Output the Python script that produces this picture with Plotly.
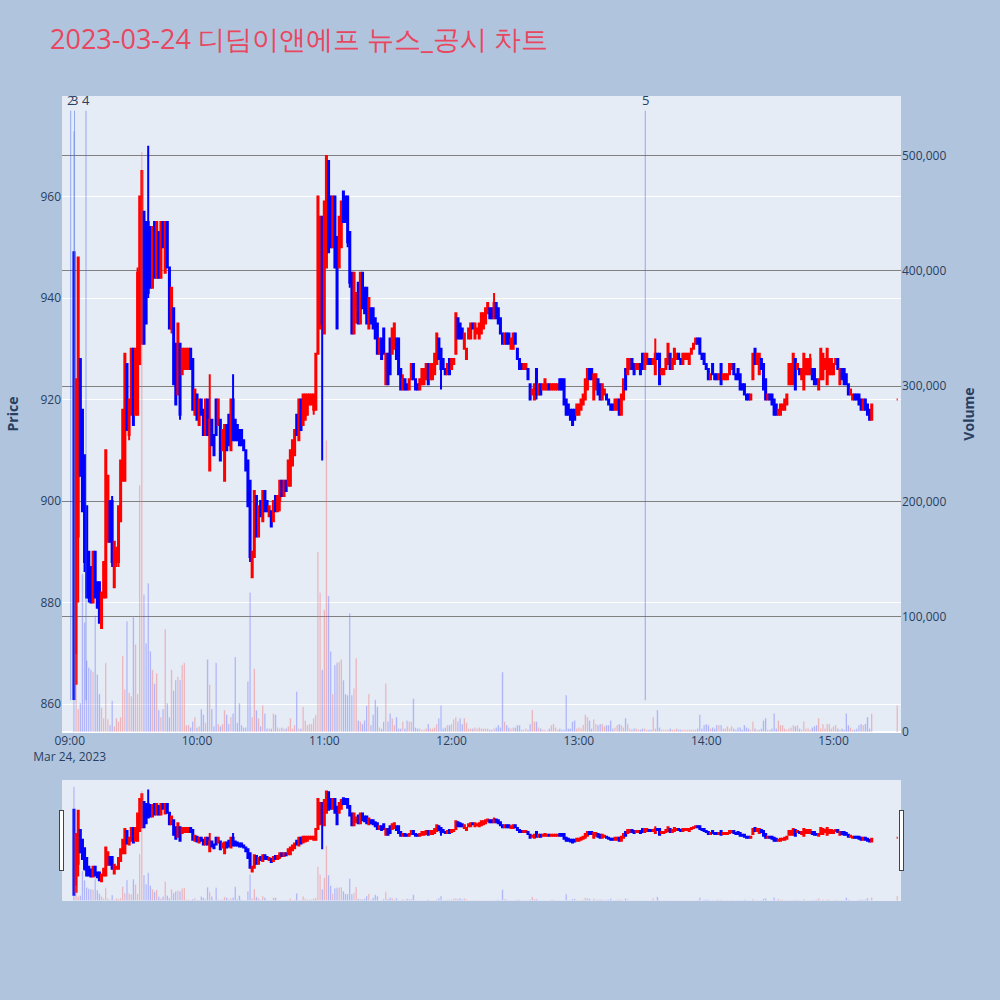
import pandas as pd
import plotly.graph_objects as go
from plotly.subplots import make_subplots

TITLE = "2023-03-24 디딤이앤에프 뉴스_공시 차트"

# minute candles 09:02 .. 15:18, plus closing print at 15:30
times = list(pd.date_range("2023-03-24 09:02", "2023-03-24 15:18", freq="min")) + [pd.Timestamp("2023-03-24 15:30")]

opens = [
    949, 864, 893, 928, 918, 909, 899, 890, 887, 880,
    890, 884, 884, 875, 881, 881, 892, 900, 900, 883,
    888, 888, 896, 904, 904, 927, 913, 917, 930, 917,
    917, 927, 931, 957, 955, 955, 954, 942, 955, 944,
    953, 944, 955, 945, 955, 946, 934, 938, 931, 921,
    931, 925, 926, 926, 926, 930, 928, 917, 921, 915,
    920, 918, 913, 920, 906, 916, 913, 920, 915, 916,
    910, 904, 915, 917, 910, 920, 916, 915, 914, 914,
    912, 910, 908, 904, 885, 889, 901, 893, 900, 896,
    902, 900, 897, 898, 896, 901, 898, 900, 904, 901,
    904, 903, 903, 907, 909, 917, 912, 920, 915, 916,
    917, 919, 919, 918, 918, 929, 934, 956, 933, 946,
    967, 960, 950, 960, 952, 946, 950, 961, 960, 960,
    953, 945, 933, 938, 943, 935, 945, 942, 942, 934,
    938, 938, 936, 935, 929, 932, 934, 923, 929, 932,
    929, 930, 932, 932, 926, 922, 924, 923, 922, 924,
    927, 924, 923, 922, 923, 923, 924, 927, 924, 924,
    925, 927, 932, 930, 928, 926, 925, 928, 926, 927,
    929, 936, 935, 934, 930, 928, 932, 932, 935, 932,
    933, 932, 933, 934, 935, 937, 938, 938, 936, 939,
    938, 936, 933, 931, 933, 933, 930, 930, 933, 930,
    928, 927, 926, 926, 926, 923, 921, 920, 926, 921,
    923, 922, 922, 922, 923, 922, 922, 922, 922, 924,
    924, 924, 920, 919, 918, 918, 918, 917, 917, 918,
    919, 920, 922, 926, 926, 920, 922, 924, 923, 920,
    921, 921, 920, 919, 919, 918, 918, 920, 917, 920,
    926, 925, 926, 928, 927, 926, 926, 927, 929, 926,
    927, 928, 928, 927, 925, 929, 929, 925, 925, 926,
    927, 929, 926, 927, 928, 929, 928, 927, 928, 928,
    927, 929, 930, 931, 932, 932, 929, 929, 927, 926,
    924, 927, 925, 925, 924, 927, 924, 924, 924, 925,
    926, 927, 925, 926, 925, 923, 923, 921, 921, 920,
    924, 930, 927, 925, 928, 927, 924, 920, 921, 921,
    920, 919, 917, 917, 918, 918, 919, 923, 923, 923,
    928, 926, 926, 924, 922, 925, 925, 925, 926, 926,
    924, 922, 924, 924, 926, 923, 925, 925, 925, 927,
    928, 923, 926, 926, 925, 923, 921, 920, 921, 921,
    921, 920, 918, 920, 919, 918, 916,
    920,
]

highs = [
    949, 924, 948, 928, 918, 909, 899, 890, 887, 890,
    890, 884, 884, 882, 888, 910, 905, 900, 901, 892,
    891, 899, 908, 918, 929, 927, 920, 930, 930, 930,
    946, 960, 965, 957, 955, 970, 954, 954, 955, 955,
    953, 955, 955, 955, 955, 946, 942, 938, 931, 935,
    931, 930, 930, 930, 930, 930, 928, 922, 921, 920,
    920, 918, 920, 920, 925, 916, 913, 920, 920, 916,
    914, 915, 915, 917, 920, 925, 916, 915, 914, 914,
    912, 910, 908, 904, 890, 902, 901, 899, 900, 902,
    902, 900, 899, 898, 900, 901, 901, 904, 904, 904,
    904, 908, 910, 912, 914, 917, 920, 920, 921, 921,
    921, 921, 921, 921, 929, 960, 956, 956, 959, 968,
    967, 960, 960, 960, 952, 956, 959, 961, 960, 960,
    953, 945, 945, 941, 943, 945, 945, 942, 942, 940,
    938, 938, 936, 935, 932, 932, 934, 929, 929, 932,
    934, 935, 932, 932, 926, 925, 924, 923, 924, 927,
    927, 924, 923, 924, 926, 926, 927, 927, 927, 927,
    929, 933, 932, 930, 928, 926, 927, 928, 928, 928,
    937, 936, 935, 934, 933, 930, 934, 935, 935, 935,
    934, 935, 937, 937, 938, 939, 938, 938, 941, 939,
    938, 936, 933, 933, 933, 933, 932, 933, 933, 930,
    928, 927, 927, 927, 926, 923, 922, 923, 926, 923,
    923, 923, 924, 923, 923, 923, 923, 923, 923, 924,
    924, 924, 920, 919, 918, 918, 918, 919, 919, 920,
    921, 924, 926, 926, 926, 925, 925, 924, 923, 923,
    922, 921, 920, 919, 919, 920, 920, 920, 921, 924,
    926, 928, 928, 928, 927, 927, 927, 927, 929, 929,
    929, 928, 928, 928, 932, 929, 929, 926, 926, 928,
    931, 929, 928, 930, 929, 929, 928, 929, 929, 929,
    929, 930, 931, 932, 932, 932, 929, 929, 927, 926,
    925, 927, 925, 925, 925, 927, 925, 925, 925, 927,
    927, 927, 925, 926, 925, 923, 923, 921, 921, 921,
    929, 930, 929, 929, 928, 927, 924, 921, 921, 921,
    920, 919, 918, 919, 919, 920, 921, 927, 927, 929,
    928, 927, 926, 926, 929, 928, 928, 929, 926, 926,
    924, 924, 930, 929, 928, 930, 928, 928, 927, 928,
    928, 926, 926, 926, 925, 923, 922, 921, 921, 921,
    921, 920, 920, 920, 919, 918, 919,
    920,
]

lows = [
    861, 864, 880, 905, 898, 886, 881, 880, 880, 880,
    881, 879, 876, 875, 881, 881, 892, 892, 887, 883,
    887, 887, 896, 904, 904, 914, 912, 917, 915, 917,
    917, 927, 931, 931, 935, 940, 942, 942, 944, 944,
    944, 944, 950, 945, 946, 934, 933, 923, 919, 921,
    916, 925, 926, 926, 926, 926, 918, 917, 916, 915,
    917, 913, 913, 913, 906, 911, 909, 913, 915, 908,
    910, 904, 910, 911, 910, 912, 912, 912, 911, 911,
    910, 906, 899, 888, 885, 889, 893, 893, 897, 896,
    898, 898, 897, 895, 896, 898, 898, 898, 901, 901,
    902, 903, 903, 907, 909, 913, 912, 914, 915, 916,
    917, 919, 919, 917, 918, 929, 934, 908, 933, 946,
    949, 950, 950, 946, 934, 946, 950, 955, 955, 950,
    942, 933, 933, 935, 935, 935, 938, 937, 935, 934,
    935, 934, 932, 929, 929, 928, 929, 923, 923, 925,
    929, 930, 928, 925, 922, 922, 922, 922, 922, 924,
    924, 922, 922, 922, 923, 923, 924, 923, 924, 924,
    925, 927, 928, 922, 926, 925, 925, 925, 926, 927,
    929, 932, 932, 932, 930, 928, 932, 932, 934, 932,
    933, 932, 933, 934, 935, 937, 936, 936, 936, 936,
    935, 933, 931, 931, 931, 931, 930, 930, 931, 928,
    926, 926, 926, 926, 924, 920, 921, 920, 920, 921,
    921, 922, 922, 922, 922, 922, 922, 922, 922, 922,
    922, 919, 917, 917, 916, 915, 916, 917, 917, 918,
    919, 920, 922, 924, 924, 920, 922, 921, 920, 920,
    921, 920, 919, 918, 918, 918, 918, 917, 917, 920,
    922, 925, 926, 926, 925, 926, 926, 925, 926, 926,
    927, 927, 927, 927, 925, 928, 923, 925, 925, 926,
    927, 926, 926, 927, 928, 928, 927, 927, 928, 928,
    927, 929, 930, 931, 931, 929, 928, 927, 926, 924,
    924, 925, 924, 924, 924, 923, 924, 924, 924, 925,
    926, 925, 924, 924, 922, 922, 921, 920, 920, 920,
    924, 927, 927, 925, 926, 922, 920, 920, 920, 919,
    917, 917, 917, 917, 918, 918, 919, 923, 923, 923,
    922, 926, 925, 924, 922, 925, 925, 925, 924, 923,
    923, 922, 924, 924, 926, 923, 925, 925, 925, 927,
    926, 923, 924, 923, 923, 921, 921, 920, 920, 920,
    919, 918, 918, 918, 917, 916, 916,
    920,
]

closes = [
    861, 924, 948, 905, 898, 888, 881, 881, 880, 890,
    881, 879, 876, 882, 888, 910, 905, 892, 888, 892,
    890, 899, 908, 918, 929, 914, 920, 930, 915, 930,
    945, 960, 965, 931, 935, 941, 942, 954, 944, 955,
    944, 955, 950, 955, 946, 934, 942, 923, 919, 935,
    917, 930, 930, 930, 930, 926, 918, 922, 916, 920,
    917, 913, 920, 913, 916, 911, 909, 913, 920, 908,
    914, 915, 910, 911, 920, 912, 912, 912, 911, 911,
    910, 906, 899, 889, 890, 902, 893, 899, 897, 902,
    898, 898, 899, 895, 900, 898, 901, 904, 901, 904,
    902, 908, 910, 912, 914, 913, 920, 914, 921, 921,
    921, 921, 921, 921, 929, 960, 956, 935, 959, 968,
    949, 950, 960, 946, 934, 956, 959, 955, 955, 951,
    943, 933, 945, 941, 935, 945, 938, 937, 935, 940,
    935, 934, 932, 929, 932, 928, 929, 929, 923, 925,
    934, 935, 928, 925, 922, 924, 922, 922, 924, 927,
    924, 922, 922, 924, 926, 926, 927, 923, 927, 927,
    929, 933, 928, 926, 926, 925, 927, 925, 928, 928,
    937, 932, 932, 932, 933, 930, 934, 935, 934, 935,
    934, 935, 937, 937, 938, 939, 936, 936, 939, 936,
    935, 933, 931, 933, 931, 931, 932, 933, 931, 928,
    926, 926, 927, 927, 924, 920, 922, 923, 921, 923,
    921, 923, 924, 923, 922, 923, 923, 923, 923, 922,
    922, 919, 917, 917, 916, 915, 916, 919, 919, 920,
    921, 924, 926, 924, 924, 925, 925, 921, 920, 923,
    922, 920, 919, 918, 918, 920, 920, 917, 921, 924,
    922, 928, 928, 926, 925, 927, 927, 925, 926, 929,
    929, 927, 927, 928, 929, 928, 923, 926, 926, 928,
    931, 926, 928, 930, 929, 928, 927, 929, 929, 929,
    929, 930, 931, 932, 931, 929, 928, 927, 926, 924,
    925, 925, 924, 924, 925, 923, 925, 925, 925, 927,
    927, 925, 924, 924, 922, 922, 921, 920, 920, 921,
    929, 927, 929, 929, 926, 922, 920, 921, 920, 919,
    917, 917, 918, 919, 919, 920, 921, 927, 927, 929,
    922, 927, 925, 926, 929, 928, 928, 928, 924, 923,
    923, 924, 930, 929, 928, 930, 928, 928, 927, 928,
    926, 926, 924, 923, 923, 921, 922, 921, 920, 920,
    919, 918, 920, 918, 917, 916, 919,
    920,
]

volumes = [
    521000, 67000, 20000, 25000, 137000, 95000, 62000, 56000, 54000, 52000,
    101000, 50000, 33000, 21000, 12000, 60000, 11000, 6000, 27000, 5000,
    12000, 9000, 13000, 66000, 37000, 96000, 34000, 31000, 100000, 76000,
    33000, 214000, 503000, 119000, 77000, 129000, 70000, 54000, 42000, 51000,
    19000, 13000, 20000, 89000, 25000, 13000, 54000, 36000, 45000, 48000,
    45000, 58000, 60000, 6000, 6000, 4000, 9000, 13000, 4000, 5000,
    20000, 15000, 8000, 63000, 41000, 20000, 5000, 60000, 7000, 5000,
    7000, 19000, 15000, 7000, 13000, 16000, 65000, 8000, 25000, 6000,
    4000, 4000, 44000, 121000, 13000, 55000, 19000, 12000, 5000, 23000,
    16000, 3000, 3000, 3000, 16000, 15000, 4000, 3000, 4000, 3000,
    3000, 5000, 12000, 3000, 6000, 35000, 3000, 3000, 22000, 10000,
    6000, 7000, 7000, 12000, 15000, 156000, 121000, 54000, 106000, 253000,
    118000, 70000, 33000, 58000, 60000, 61000, 63000, 45000, 33000, 32000,
    103000, 32000, 38000, 64000, 10000, 9000, 7000, 10000, 23000, 33000,
    6000, 15000, 28000, 22000, 4000, 3000, 9000, 42000, 9000, 16000,
    12000, 6000, 13000, 3000, 3000, 9000, 3000, 10000, 9000, 9000,
    29000, 4000, 3000, 3000, 2000, 2000, 3000, 7000, 3000, 3000,
    4000, 7000, 12000, 23000, 3000, 4000, 6000, 6000, 7000, 11000,
    13000, 9000, 12000, 7000, 12000, 8000, 3000, 3000, 3000, 4000,
    3000, 4000, 3000, 3000, 3000, 3000, 2000, 2000, 3000, 4000,
    6000, 4000, 52000, 9000, 6000, 4000, 3000, 4000, 4000, 6000,
    6000, 2000, 2000, 3000, 2000, 7000, 19000, 9000, 9000, 4000,
    3000, 2000, 2000, 1000, 3000, 6000, 7000, 4000, 2000, 3000,
    2000, 2000, 32000, 3000, 3000, 9000, 10000, 3000, 4000, 3000,
    6000, 15000, 13000, 10000, 3000, 11000, 7000, 6000, 7000, 7000,
    5000, 6000, 6000, 10000, 3000, 4000, 6000, 7000, 6000, 4000,
    12000, 7000, 3000, 2000, 3000, 3000, 2000, 2000, 3000, 3000,
    2000, 2000, 2000, 13000, 3000, 19000, 4000, 2000, 2000, 2000,
    2000, 3000, 2000, 2000, 3000, 2000, 2000, 2000, 2000, 2000,
    2000, 2000, 2000, 2000, 3000, 15000, 3000, 6000, 7000, 6000,
    3000, 4000, 3000, 6000, 6000, 6000, 3000, 3000, 5000, 3000,
    5000, 3000, 2000, 4000, 4000, 2000, 6000, 4000, 3000, 2000,
    9000, 3000, 2000, 2000, 3000, 10000, 12000, 2000, 2000, 3000,
    16000, 3000, 10000, 6000, 6000, 3000, 2000, 3000, 4000, 6000,
    5000, 6000, 3000, 2000, 9000, 3000, 3000, 2000, 4000, 5000,
    6000, 12000, 3000, 7000, 3000, 7000, 7000, 3000, 5000, 6000,
    3000, 2000, 3000, 2000, 16000, 6000, 4000, 2000, 2000, 3000,
    6000, 7000, 6000, 7000, 13000, 3000, 16000,
    23000,
]

news_labels = ["2", "3", "4", "5"]
news_times = ["2023-03-24 09:00:28", "2023-03-24 09:02:16", "2023-03-24 09:07:41", "2023-03-24 13:31:16"]

bar_colors = ["red" if c >= o else "blue" for o, c in zip(opens, closes)]

fig = make_subplots(specs=[[{"secondary_y": True}]])
fig.add_trace(
    go.Candlestick(
        x=times, open=opens, high=highs, low=lows, close=closes, name="Price",
        increasing=dict(line=dict(color="red"), fillcolor="red"),
        decreasing=dict(line=dict(color="blue"), fillcolor="blue"),
    ),
    secondary_y=False,
)
fig.add_trace(
    go.Bar(x=times, y=volumes, marker_color=bar_colors, opacity=0.3, name="Volume"),
    secondary_y=True,
)

for lab, t in zip(news_labels, news_times):
    fig.add_annotation(
        x=t, xref="x", y=0.05, yref="paper", text=lab,
        showarrow=True, arrowhead=0, arrowwidth=1, arrowcolor="rgba(65,105,225,0.5)",
        ax=0, ay=-600, font=dict(size=13, color="#2a3f5f"),
    )

fig.update_layout(
    width=1000, height=1000,
    title=dict(text=TITLE, font=dict(size=27, color="#e8475f"), x=0.05, y=0.96, yanchor="middle"),
    paper_bgcolor="lightsteelblue",
    plot_bgcolor="#E5ECF6",
    margin=dict(l=62, r=99, t=96, b=100),
    showlegend=False,
    bargap=0.3,
)
fig.update_xaxes(
    domain=[0, 1],
    range=["2023-03-24 08:56:22", "2023-03-24 15:31:48"],
    rangeslider=dict(visible=True, range=["2023-03-24 08:58:13", "2023-03-24 15:30:30"]),
)
fig.update_yaxes(title_text="<b>Price</b>", title_standoff=18, range=[854.5, 979.8], gridcolor="white", secondary_y=False)
fig.update_yaxes(title_text="<b>Volume</b>", title_standoff=18, range=[0, 551500], gridcolor="gray", tickformat=",", secondary_y=True)

fig.write_html(
    "out.html",
    config={"displayModeBar": False},
    post_script="document.body.style.margin='0px';document.body.style.overflow='hidden';",
)
